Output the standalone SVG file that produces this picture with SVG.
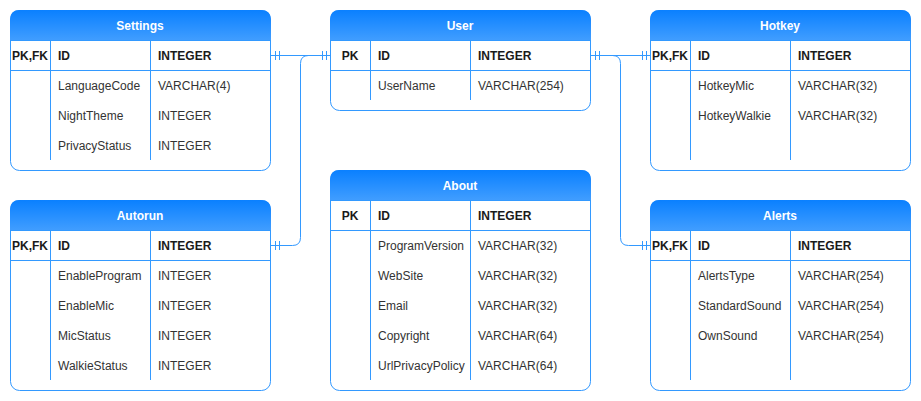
<svg xmlns="http://www.w3.org/2000/svg" width="921" height="401" viewBox="0 0 921 401">
<defs>
<linearGradient id="hg" x1="0" y1="0" x2="0" y2="1">
<stop offset="0" stop-color="#0a80ff"/>
<stop offset="1" stop-color="#409dff"/>
</linearGradient>
</defs>
<style>
.box{fill:#fff;stroke:#3399ff;stroke-width:1}
.hd{fill:url(#hg)}
.ln{stroke:#3399ff;stroke-width:1;fill:none}
.ht{font-family:"Liberation Sans",Arial,sans-serif;font-size:12px;font-weight:bold;fill:#fff;text-anchor:middle}
.pk{font-family:"Liberation Sans",Arial,sans-serif;font-size:12px;font-weight:bold;fill:#1a1a1a}
.pkc{text-anchor:middle}
.tx{font-family:"Liberation Sans",Arial,sans-serif;font-size:12px;fill:#333}
.cn{stroke:#3399ff;stroke-width:1;fill:none}
</style>

<g id="connectors">
<path class="cn" d="M270.5,55.5 H330"/>
<path class="cn" d="M270.5,245.5 H292.5 Q300.5,245.5 300.5,237.5 V63.5 Q300.5,55.5 308.5,55.5 H330"/>
<path class="cn" d="M590.5,55.5 H650"/>
<path class="cn" d="M590.5,55.5 H612.5 Q620.5,55.5 620.5,63.5 V237.5 Q620.5,245.5 628.5,245.5 H650"/>
<path class="cn" d="M275.5,51 V60 M279.5,51 V60 M322.5,51 V60 M326.5,51 V60"/>
<path class="cn" d="M275.5,241 V250 M279.5,241 V250"/>
<path class="cn" d="M595.5,51 V60 M599.5,51 V60 M642.5,51 V60 M646.5,51 V60"/>
<path class="cn" d="M642.5,241 V250 M646.5,241 V250"/>
</g>

<g id="settings">
<rect class="box" x="10.5" y="10.5" width="260" height="160" rx="9"/>
<path class="hd" d="M10,40 V19.5 Q10,10 19.5,10 H261 Q271,10 271,19.5 V40 Z"/>
<path class="ln" d="M10.5,40.5 H270.5 M10.5,70.5 H270.5 M50.5,40.5 V160 M150.5,40.5 V160"/>
<text class="ht" x="140" y="30">Settings</text>
<text class="pk pkc" x="30" y="60">PK,FK</text>
<text class="pk" x="58" y="60">ID</text>
<text class="pk" x="158" y="60">INTEGER</text>
<text class="tx" x="58" y="90">LanguageCode</text><text class="tx" x="158" y="90">VARCHAR(4)</text>
<text class="tx" x="58" y="120">NightTheme</text><text class="tx" x="158" y="120">INTEGER</text>
<text class="tx" x="58" y="150">PrivacyStatus</text><text class="tx" x="158" y="150">INTEGER</text>
</g>

<g id="user">
<rect class="box" x="330.5" y="10.5" width="260" height="100" rx="9"/>
<path class="hd" d="M330,40 V19.5 Q330,10 339.5,10 H581 Q591,10 591,19.5 V40 Z"/>
<path class="ln" d="M330.5,40.5 H590.5 M330.5,70.5 H590.5 M370.5,40.5 V100 M470.5,40.5 V100"/>
<text class="ht" x="460" y="30">User</text>
<text class="pk pkc" x="350" y="60">PK</text>
<text class="pk" x="378" y="60">ID</text>
<text class="pk" x="478" y="60">INTEGER</text>
<text class="tx" x="378" y="90">UserName</text><text class="tx" x="478" y="90">VARCHAR(254)</text>
</g>

<g id="hotkey">
<rect class="box" x="650.5" y="10.5" width="260" height="160" rx="9"/>
<path class="hd" d="M650,40 V19.5 Q650,10 659.5,10 H901 Q911,10 911,19.5 V40 Z"/>
<path class="ln" d="M650.5,40.5 H910.5 M650.5,70.5 H910.5 M690.5,40.5 V160 M790.5,40.5 V160"/>
<text class="ht" x="780" y="30">Hotkey</text>
<text class="pk pkc" x="670" y="60">PK,FK</text>
<text class="pk" x="698" y="60">ID</text>
<text class="pk" x="798" y="60">INTEGER</text>
<text class="tx" x="698" y="90">HotkeyMic</text><text class="tx" x="798" y="90">VARCHAR(32)</text>
<text class="tx" x="698" y="120">HotkeyWalkie</text><text class="tx" x="798" y="120">VARCHAR(32)</text>
</g>

<g id="autorun">
<rect class="box" x="10.5" y="200.5" width="260" height="190" rx="9"/>
<path class="hd" d="M10,230 V209.5 Q10,200 19.5,200 H261 Q271,200 271,209.5 V230 Z"/>
<path class="ln" d="M10.5,230.5 H270.5 M10.5,260.5 H270.5 M50.5,230.5 V380 M150.5,230.5 V380"/>
<text class="ht" x="140" y="220">Autorun</text>
<text class="pk pkc" x="30" y="250">PK,FK</text>
<text class="pk" x="58" y="250">ID</text>
<text class="pk" x="158" y="250">INTEGER</text>
<text class="tx" x="58" y="280">EnableProgram</text><text class="tx" x="158" y="280">INTEGER</text>
<text class="tx" x="58" y="310">EnableMic</text><text class="tx" x="158" y="310">INTEGER</text>
<text class="tx" x="58" y="340">MicStatus</text><text class="tx" x="158" y="340">INTEGER</text>
<text class="tx" x="58" y="370">WalkieStatus</text><text class="tx" x="158" y="370">INTEGER</text>
</g>

<g id="about">
<rect class="box" x="330.5" y="170.5" width="260" height="220" rx="9"/>
<path class="hd" d="M330,200 V179.5 Q330,170 339.5,170 H581 Q591,170 591,179.5 V200 Z"/>
<path class="ln" d="M330.5,200.5 H590.5 M330.5,230.5 H590.5 M370.5,200.5 V380 M470.5,200.5 V380"/>
<text class="ht" x="460" y="190">About</text>
<text class="pk pkc" x="350" y="220">PK</text>
<text class="pk" x="378" y="220">ID</text>
<text class="pk" x="478" y="220">INTEGER</text>
<text class="tx" x="378" y="250">ProgramVersion</text><text class="tx" x="478" y="250">VARCHAR(32)</text>
<text class="tx" x="378" y="280">WebSite</text><text class="tx" x="478" y="280">VARCHAR(32)</text>
<text class="tx" x="378" y="310">Email</text><text class="tx" x="478" y="310">VARCHAR(32)</text>
<text class="tx" x="378" y="340">Copyright</text><text class="tx" x="478" y="340">VARCHAR(64)</text>
<text class="tx" x="378" y="370">UrlPrivacyPolicy</text><text class="tx" x="478" y="370">VARCHAR(64)</text>
</g>

<g id="alerts">
<rect class="box" x="650.5" y="200.5" width="260" height="190" rx="9"/>
<path class="hd" d="M650,230 V209.5 Q650,200 659.5,200 H901 Q911,200 911,209.5 V230 Z"/>
<path class="ln" d="M650.5,230.5 H910.5 M650.5,260.5 H910.5 M690.5,230.5 V380 M790.5,230.5 V380"/>
<text class="ht" x="780" y="220">Alerts</text>
<text class="pk pkc" x="670" y="250">PK,FK</text>
<text class="pk" x="698" y="250">ID</text>
<text class="pk" x="798" y="250">INTEGER</text>
<text class="tx" x="698" y="280">AlertsType</text><text class="tx" x="798" y="280">VARCHAR(254)</text>
<text class="tx" x="698" y="310">StandardSound</text><text class="tx" x="798" y="310">VARCHAR(254)</text>
<text class="tx" x="698" y="340">OwnSound</text><text class="tx" x="798" y="340">VARCHAR(254)</text>
</g>
</svg>
